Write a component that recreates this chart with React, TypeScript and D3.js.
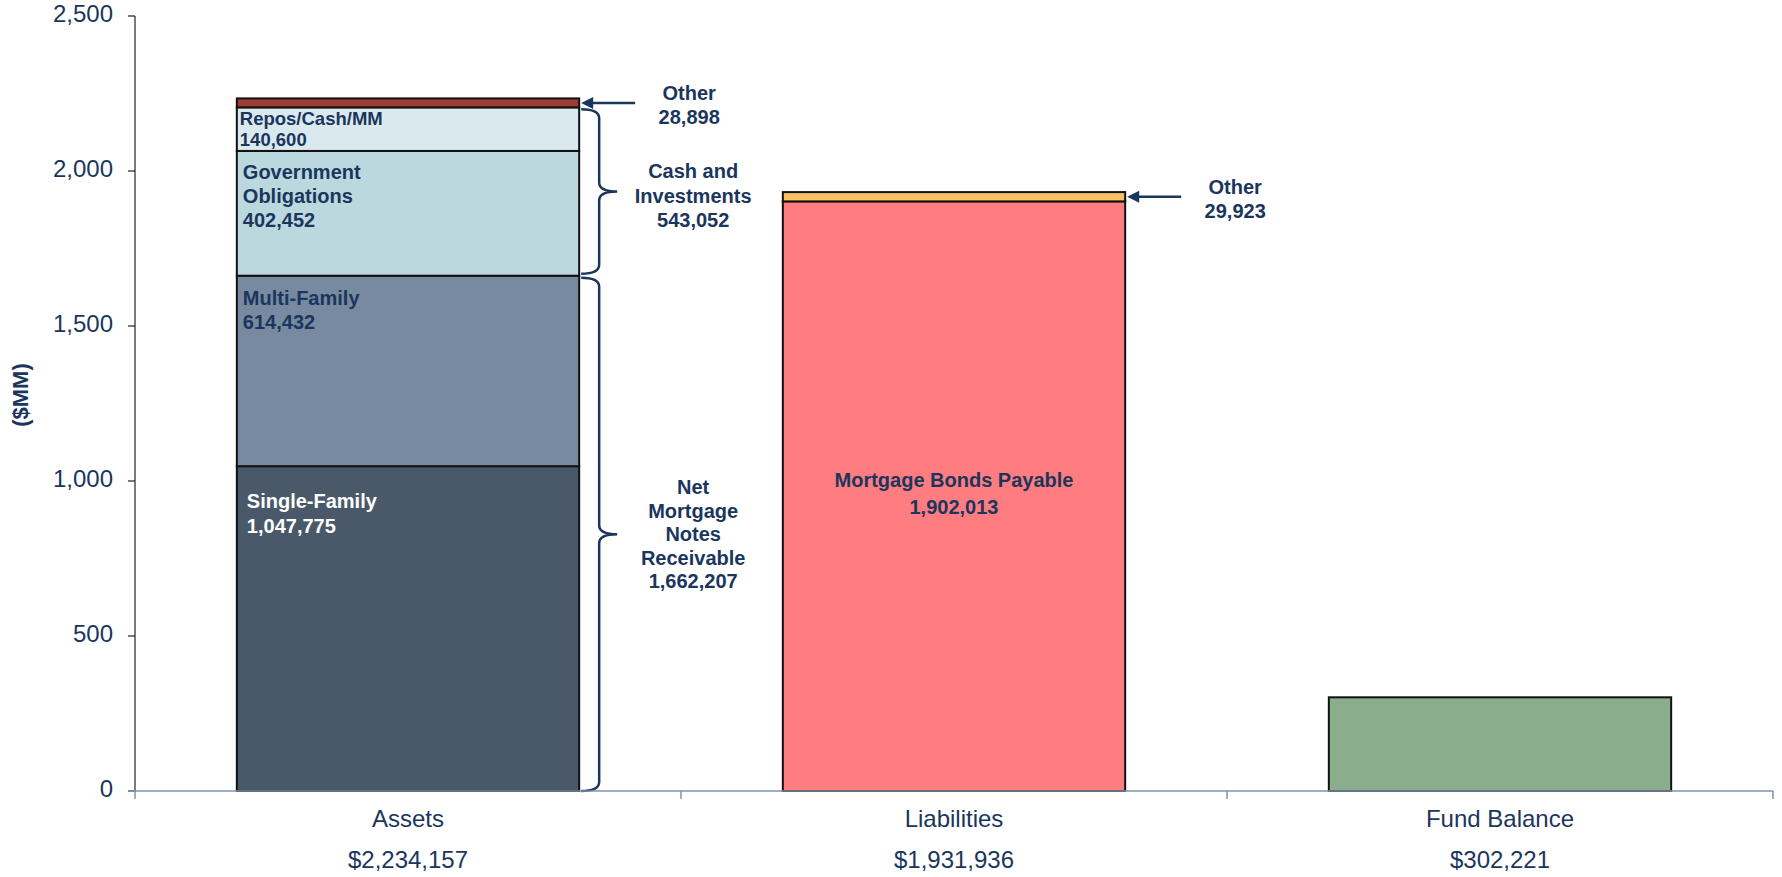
import React from 'react';
import * as d3 from 'd3';

// values in $ thousands, axis in $MM
const categories = ['Assets', 'Liabilities', 'Fund Balance'];
const categoryTotals = ['$2,234,157', '$1,931,936', '$302,221'];

const assetNames = ['Single-Family', 'Multi-Family', 'Government Obligations', 'Repos/Cash/MM', 'Other'];
const assetValues = [1047775, 614432, 402452, 140600, 28898];
const assetColors = ['#4a596a', '#778a9f', '#bad8de', '#dae9ee', '#a03c38'];

const liabilityNames = ['Mortgage Bonds Payable', 'Other'];
const liabilityValues = [1902013, 29923];
const liabilityColors = ['#ff7c80', '#f6c262'];

const fundValues = [302221];
const fundColors = ['#8aae8c'];

const yTicks = [0, 500, 1000, 1500, 2000, 2500];

// brace groups on the assets bar: [first segment, last segment, label lines]
const assetGroups = [
  { from: 0, to: 1, lines: ['Net', 'Mortgage', 'Notes', 'Receivable', '1,662,207'] },
  { from: 2, to: 3, lines: ['Cash and', 'Investments', '543,052'] },
];

const W = 1782;
const H = 877;
const NAVY = '#1b365d';
const FONT = 'Arial, "Liberation Sans", sans-serif';

const fmt = d3.format(',');

function stack(values: number[]) {
  let acc = 0;
  return values.map((v) => {
    const s = { y0: acc / 1000, y1: (acc + v) / 1000, v };
    acc += v;
    return s;
  });
}

function bracePath(x0: number, xl: number, xt: number, yTop: number, yBot: number) {
  const r = 9;
  const ym = (yTop + yBot) / 2;
  return `M${x0},${yTop} Q${xl},${yTop} ${xl},${yTop + r} L${xl},${ym - r} Q${xl},${ym} ${xt},${ym} Q${xl},${ym} ${xl},${ym + r} L${xl},${yBot - r} Q${xl},${yBot} ${x0},${yBot}`;
}

const App = () => {
  const x = d3.scaleBand<string>()
    .domain(categories)
    .range([135, 1773])
    .paddingInner(0.373)
    .paddingOuter(0.1865);

  const y = d3.scaleLinear().domain([0, 2500]).range([791, 16]);

  const bw = x.bandwidth();
  const step = x.step();
  const tickXs = d3.range(categories.length + 1).map((i) => 135 + i * step);

  const assets = stack(assetValues);
  const liabs = stack(liabilityValues);
  const fund = stack(fundValues);

  const ax = x('Assets')!;
  const lx = x('Liabilities')!;
  const fx = x('Fund Balance')!;

  // label layout inside assets segments: dx, dy (first line centre below segment top), line height, size
  const assetLabelLayout = [
    { dx: 10, dy: 35, lh: 24.5, size: 20, color: '#ffffff', lines: ['Single-Family', fmt(assetValues[0])] },
    { dx: 6, dy: 22, lh: 24, size: 20, color: NAVY, lines: ['Multi-Family', fmt(assetValues[1])] },
    { dx: 6, dy: 21, lh: 24, size: 20, color: NAVY, lines: ['Government', 'Obligations', fmt(assetValues[2])] },
    { dx: 3, dy: 10.5, lh: 21.5, size: 18.5, color: NAVY, lines: ['Repos/Cash/MM', fmt(assetValues[3])] },
  ];

  const arrow = (xBar: number, seg: { y0: number; y1: number }, value: number) => {
    const yy = y((seg.y0 + seg.y1) / 2);
    const tx = xBar + 110;
    return (
      <g>
        <line x1={xBar + 56} x2={xBar + 12} y1={yy} y2={yy} stroke={NAVY} strokeWidth={2.5} />
        <path d={`M${xBar + 2},${yy} L${xBar + 14},${yy - 6} L${xBar + 14},${yy + 6} Z`} fill={NAVY} />
        <text x={tx} y={yy - 10 + 7.5} textAnchor="middle" fontSize={20} fontWeight="bold" fill={NAVY}>Other</text>
        <text x={tx} y={yy + 14 + 7.5} textAnchor="middle" fontSize={20} fontWeight="bold" fill={NAVY}>{fmt(value)}</text>
      </g>
    );
  };

  return (
    <div>
      <style>{'body{margin:0}'}</style>
      <svg width={W} height={H} style={{ display: 'block', fontFamily: FONT }}>
        <rect width={W} height={H} fill="#ffffff" />

        {/* y axis */}
        <line x1={135} x2={135} y1={y(2500)} y2={y(0)} stroke="#222" strokeWidth={1.2} />
        {yTicks.map((t) => (
          <g key={t}>
            <line x1={128} x2={135} y1={y(t)} y2={y(t)} stroke="#222" strokeWidth={1.2} />
            <text x={113} y={y(t)} textAnchor="end" dominantBaseline="middle" fontSize={24} fill={NAVY}>{fmt(t)}</text>
          </g>
        ))}
        <text transform={`translate(22,395) rotate(-90)`} textAnchor="middle" dominantBaseline="middle" fontSize={22} fontWeight="bold" fill={NAVY}>($MM)</text>

        {/* assets stack */}
        {assets.map((s, i) => (
          <rect key={`a${i}`} x={ax} width={bw} y={y(s.y1)} height={y(s.y0) - y(s.y1)} fill={assetColors[i]} stroke="#111" strokeWidth={2} />
        ))}
        {assetLabelLayout.map((l, i) => (
          <text key={`al${i}`} fontSize={l.size} fontWeight="bold" fill={l.color}>
            {l.lines.map((ln, j) => (
              <tspan key={j} x={ax + l.dx} y={y(assets[i].y1) + l.dy + j * l.lh + l.size * 0.36}>{ln}</tspan>
            ))}
          </text>
        ))}

        {/* liabilities stack */}
        {liabs.map((s, i) => (
          <rect key={`l${i}`} x={lx} width={bw} y={y(s.y1)} height={y(s.y0) - y(s.y1)} fill={liabilityColors[i]} stroke="#111" strokeWidth={2} />
        ))}
        <text textAnchor="middle" fontSize={20} fontWeight="bold" fill={NAVY}>
          <tspan x={lx + bw / 2} y={y(liabs[0].y1 / 2) - 9.5}>{liabilityNames[0]}</tspan>
          <tspan x={lx + bw / 2} y={y(liabs[0].y1 / 2) + 18}>{fmt(liabilityValues[0])}</tspan>
        </text>

        {/* fund balance */}
        {fund.map((s, i) => (
          <rect key={`f${i}`} x={fx} width={bw} y={y(s.y1)} height={y(s.y0) - y(s.y1)} fill={fundColors[i]} stroke="#111" strokeWidth={2} />
        ))}

        {/* other callouts */}
        {arrow(ax + bw, assets[4], assetValues[4])}
        {arrow(lx + bw, liabs[1], liabilityValues[1])}

        {/* braces */}
        {assetGroups.map((g, i) => {
          const yTop = y(assets[g.to].y1) + 2;
          const yBot = y(assets[g.from].y0) - (i === 0 ? 0 : 2);
          const ym = (yTop + yBot) / 2;
          const cx = ax + bw + 114;
          const lh = g.lines.length > 3 ? 23.5 : 24.5;
          const start = ym - ((g.lines.length - 1) * lh) / 2 + (i === 0 ? 0 : 4);
          return (
            <g key={`b${i}`}>
              <path d={bracePath(ax + bw + 2, ax + bw + 20, ax + bw + 38, yTop, yBot)} fill="none" stroke={NAVY} strokeWidth={2.5} />
              <text textAnchor="middle" fontSize={20} fontWeight="bold" fill={NAVY}>
                {g.lines.map((ln, j) => (
                  <tspan key={j} x={cx} y={start + j * lh + 7}>{ln}</tspan>
                ))}
              </text>
            </g>
          );
        })}

        {/* x axis */}
        <line x1={128} x2={1773} y1={y(0)} y2={y(0)} stroke="#7f93ad" strokeWidth={1.5} />
        {tickXs.map((tx, i) => (
          <line key={`xt${i}`} x1={tx} x2={tx} y1={y(0)} y2={y(0) + 8} stroke="#7f93ad" strokeWidth={1.5} />
        ))}
        {categories.map((c, i) => (
          <g key={c}>
            <text x={x(c)! + bw / 2} y={821} textAnchor="middle" dominantBaseline="middle" fontSize={24} fill={NAVY}>{c}</text>
            <text x={x(c)! + bw / 2} y={862} textAnchor="middle" dominantBaseline="middle" fontSize={24} fill={NAVY}>{categoryTotals[i]}</text>
          </g>
        ))}
      </svg>
    </div>
  );
};

export default App;
